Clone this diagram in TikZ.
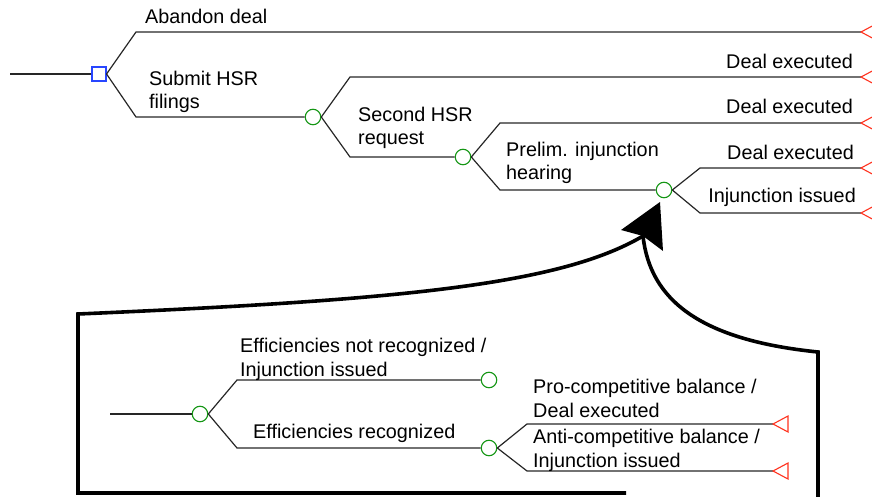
\documentclass[tikz,border=0pt]{standalone}
\usepackage{fontspec}
\setmainfont{Liberation Sans}
\definecolor{decblue}{RGB}{40,70,255}
\definecolor{chgreen}{RGB}{20,150,20}
\definecolor{termred}{RGB}{255,50,30}
\begin{document}
\begin{tikzpicture}[x=1pt,y=-1pt,
  branch/.style={draw=black!85, line width=1.2pt},
  decision/.style={rectangle, draw=decblue, line width=1.1pt, minimum size=14pt, inner sep=0pt, fill=white},
  chance/.style={circle, draw=chgreen, line width=1.1pt, minimum size=15.5pt, inner sep=0pt, fill=white},
  term/.style={draw=termred, line width=1.1pt, fill=white, line join=miter},
  lbl/.style={anchor=base west, inner sep=0pt, font=\fontsize{19.8}{23}\selectfont},
  lblr/.style={anchor=base east, inner sep=0pt, font=\fontsize{19.8}{23}\selectfont},
  frame/.style={line width=3.6pt, draw=black, line join=miter}]
\useasboundingbox (0,0) rectangle (872,497);
\clip (0,0) rectangle (872,497);

% ---------- top tree ----------
\coordinate (r0) at (10,74);
\node[decision] (d) at (99,74) {};
\node[chance] (c1) at (313,117) {};
\node[chance] (c2) at (463,157) {};
\node[chance] (c3) at (664,190) {};
\coordinate (a1) at (136,32);  \coordinate (a2) at (136,117);
\coordinate (b1) at (350,77);  \coordinate (b2) at (350,157);
\coordinate (e1) at (500,123); \coordinate (e2) at (500,190);
\coordinate (f1) at (700,168); \coordinate (f2) at (700,213);
\coordinate (t1) at (861,32);
\coordinate (t2) at (861,77);
\coordinate (t3) at (861,123);
\coordinate (t4) at (861,168);
\coordinate (t5) at (861,213);

\draw[branch] (r0) -- (d.west);
\draw[branch] (d.east) -- (a1) -- (t1);
\draw[branch] (d.east) -- (a2) -- (c1.west);
\draw[branch] (c1.east) -- (b1) -- (t2);
\draw[branch] (c1.east) -- (b2) -- (c2.west);
\draw[branch] (c2.east) -- (e1) -- (t3);
\draw[branch] (c2.east) -- (e2) -- (c3.west);
\draw[branch] (c3.east) -- (f1) -- (t4);
\draw[branch] (c3.east) -- (f2) -- (t5);
\foreach \t in {t1,t2,t3,t4,t5}
  \draw[term] (\t) -- ++(15,-8) -- ++(0,16) -- cycle;

\node[lbl] (l1) at (145,24) {Abandon deal};
\node[lbl] (l2) at (149,86) {Submit HSR};
\node[lbl] (l2b) at (149,109) {filings};
\node[lbl] (l3) at (358,122) {Second HSR};
\node[lbl] (l3b) at (358,145) {request};
\node[lbl] (l4) at (506,157) {Prelim. injunction};
\node[lbl] (l4b) at (506,180) {hearing};
\node[lblr] (l5) at (853,69) {Deal executed};
\node[lblr] (l6) at (853,114) {Deal executed};
\node[lblr] (l7) at (854,160) {Deal executed};
\node[lblr] (l8) at (856,203) {Injunction issued};

% ---------- bottom tree ----------
\coordinate (s0) at (110,414);
\node[chance] (g0) at (200,414) {};
\node[chance] (g1) at (489,380) {};
\node[chance] (g2) at (489,448) {};
\coordinate (h1) at (237,380); \coordinate (h2) at (237,448);
\coordinate (k1) at (527,424); \coordinate (k2) at (527,471);
\coordinate (u1) at (773,424);
\coordinate (u2) at (773,471);

\draw[branch] (s0) -- (g0.west);
\draw[branch] (g0.east) -- (h1) -- (g1.west);
\draw[branch] (g0.east) -- (h2) -- (g2.west);
\draw[branch] (g2.east) -- (k1) -- (u1);
\draw[branch] (g2.east) -- (k2) -- (u2);
\foreach \t in {u1,u2}
  \draw[term] (\t) -- ++(15,-8) -- ++(0,16) -- cycle;

\node[lbl] (m1) at (240,352) {Efficiencies not recognized /};
\node[lbl] (m1b) at (240,376) {Injunction issued};
\node[lbl] (m2) at (253,438) {Efficiencies recognized};
\node[lbl] (m3) at (533,393) {Pro-competitive balance /};
\node[lbl] (m3b) at (533,417) {Deal executed};
\node[lbl] (m4) at (533,443) {Anti-competitive balance /};
\node[lbl] (m4b) at (533,467) {Injunction issued};

% ---------- callout frame ----------
\coordinate (notch) at (643,236);
\coordinate (tip) at (660,202);
\draw[frame] (626,493) -- (78,493) -- (78,314) .. controls (400,300) and (560,285) .. (notch);
\draw[frame] (notch) .. controls (650,300) and (700,340) .. (818,352) -- (818,505);
\fill[black] (tip) -- (621,230) -- (notch) -- (663,251) -- cycle;
\end{tikzpicture}
\end{document}
